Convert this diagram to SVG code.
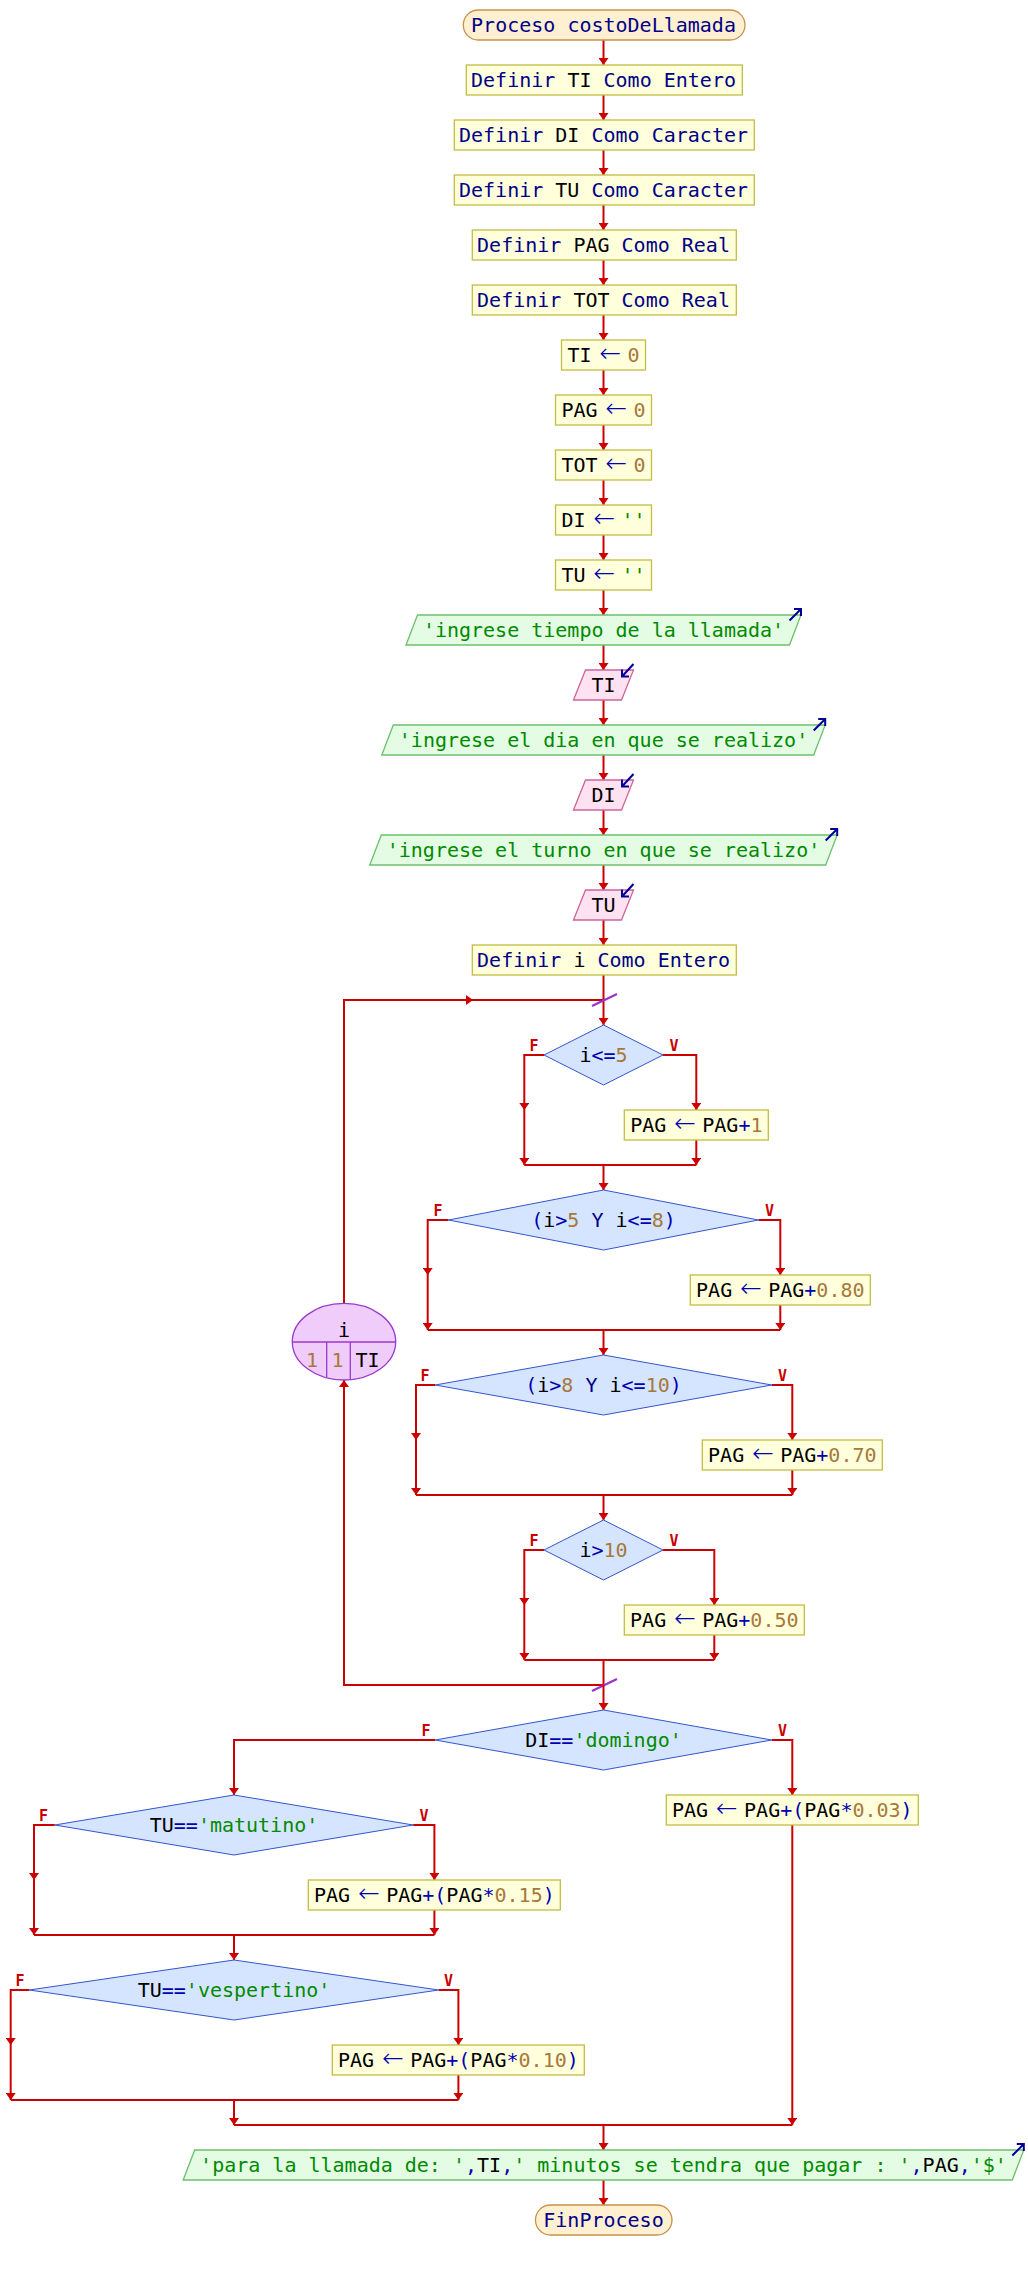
<svg xmlns="http://www.w3.org/2000/svg" width="1028" height="2270" viewBox="0 0 1028 2270">
<style>
.c{stroke:#cc0000;stroke-width:2;fill:none}
.a{marker-end:url(#ah)}
.p{fill:#ffffdc;stroke:#c4bc44;stroke-width:1.3}
.tm{fill:#fff0d2;stroke:#c8904a;stroke-width:1.3}
.out{fill:#e4fce4;stroke:#6cc06c;stroke-width:1.3}
.in{fill:#ffe2f2;stroke:#cc6699;stroke-width:1.3}
.d{fill:#d6e5ff;stroke:#3355cc;stroke-width:1}
.t{font-family:"DejaVu Sans Mono","Liberation Mono",monospace;font-size:20px;text-anchor:middle;fill:#000}
.ar{font-family:"DejaVu Sans",sans-serif;font-size:26px;font-weight:200}
.k{fill:#000088}
.v{fill:#000}
.o{fill:#0000b0}
.n{fill:#a8783a}
.s{fill:#008a00}
.lb{font-family:"DejaVu Sans Mono","Liberation Mono",monospace;font-size:15px;font-weight:bold;fill:#cc0000;text-anchor:middle}
.ic{stroke:#000099;stroke-width:2;fill:none}
.sl{stroke:#9933cc;stroke-width:2.2}
</style>
<defs>
<marker id="ah" markerUnits="userSpaceOnUse" markerWidth="7" markerHeight="10" refX="7" refY="5" orient="auto" viewBox="0 0 7 10"><path d="M0,0 L7,5 L0,10 z" fill="#cc0000"/></marker>
</defs>
<rect width="1028" height="2270" fill="#ffffff"/>

<g id="connectors">
<path class="c a" d="M603.5,40V65"/>
<path class="c a" d="M603.5,95V120"/>
<path class="c a" d="M603.5,150V175"/>
<path class="c a" d="M603.5,205V230"/>
<path class="c a" d="M603.5,260V285"/>
<path class="c a" d="M603.5,315V340"/>
<path class="c a" d="M603.5,370V395"/>
<path class="c a" d="M603.5,425V450"/>
<path class="c a" d="M603.5,480V505"/>
<path class="c a" d="M603.5,535V560"/>
<path class="c a" d="M603.5,590V615"/>
<path class="c a" d="M603.5,645V670"/>
<path class="c a" d="M603.5,700V725"/>
<path class="c a" d="M603.5,755V780"/>
<path class="c a" d="M603.5,810V835"/>
<path class="c a" d="M603.5,865V890"/>
<path class="c a" d="M603.5,920V945"/>
<path class="c" d="M603.5,975V1000"/>
<path class="c a" d="M603.5,1000V1025"/>
<path class="c a" d="M344,1303V1000H473"/>
<path class="c" d="M472,1000H603.5"/>
<line class="sl" x1="592" y1="1006" x2="617" y2="994"/>
<path class="c a" d="M544,1055H524.3V1110"/>
<path class="c a" d="M524.3,1110V1165"/>
<path class="c a" d="M663,1055H696.3V1110"/>
<path class="c a" d="M696.3,1140V1165"/>
<path class="c" d="M524.3,1165H696.3"/>
<path class="c a" d="M603.5,1165V1190"/>
<path class="c a" d="M448.5,1220H427.7V1275"/>
<path class="c a" d="M427.7,1275V1330"/>
<path class="c a" d="M758.5,1220H780.3V1275"/>
<path class="c a" d="M780.3,1305V1330"/>
<path class="c" d="M427.7,1330H780.3"/>
<path class="c a" d="M603.5,1330V1355"/>
<path class="c a" d="M435.2,1385H416V1440"/>
<path class="c a" d="M416,1440V1495"/>
<path class="c a" d="M771.8,1385H792.3V1440"/>
<path class="c a" d="M792.3,1470V1495"/>
<path class="c" d="M416,1495H792.3"/>
<path class="c a" d="M603.5,1495V1520"/>
<path class="c a" d="M544,1550H524.3V1605"/>
<path class="c a" d="M524.3,1605V1660"/>
<path class="c a" d="M663,1550H714.3V1605"/>
<path class="c a" d="M714.3,1635V1660"/>
<path class="c" d="M524.3,1660H714.3"/>
<path class="c" d="M603.5,1660V1685"/>
<path class="c a" d="M603.5,1685H344V1380"/>
<line class="sl" x1="592" y1="1691" x2="617" y2="1679"/>
<path class="c a" d="M603.5,1685V1710"/>
<path class="c a" d="M435.2,1740H234V1795"/>
<path class="c a" d="M771.8,1740H792.3V1795"/>
<path class="c a" d="M792.3,1825V2125"/>
<path class="c a" d="M54.8,1825H34V1880"/>
<path class="c a" d="M34,1880V1935"/>
<path class="c a" d="M413.2,1825H434.4V1880"/>
<path class="c a" d="M434.4,1910V1935"/>
<path class="c" d="M34,1935H434.4"/>
<path class="c a" d="M234,1935V1960"/>
<path class="c a" d="M29.3,1990H10.7V2045"/>
<path class="c a" d="M10.7,2045V2100"/>
<path class="c a" d="M438.7,1990H458.4V2045"/>
<path class="c a" d="M458.4,2075V2100"/>
<path class="c" d="M10.7,2100H458.4"/>
<path class="c a" d="M234,2100V2125"/>
<path class="c" d="M234,2125H792.3"/>
<path class="c a" d="M603.5,2125V2150"/>
<path class="c a" d="M603.5,2180V2205"/>
</g>

<g id="n_inicio"><rect class="tm" x="463.3" y="10" width="281.7" height="30" rx="15"/><text class="t" x="603.5" y="32" xml:space="preserve"><tspan class="k">Proceso costoDeLlamada</tspan></text></g>
<g id="n_defTI"><rect class="p" x="466.3" y="65" width="276" height="30"/><text class="t" x="603.5" y="87" xml:space="preserve"><tspan class="k">Definir</tspan> <tspan class="v">TI</tspan> <tspan class="k">Como Entero</tspan></text></g>
<g id="n_defDI"><rect class="p" x="454.3" y="120" width="300" height="30"/><text class="t" x="603.5" y="142" xml:space="preserve"><tspan class="k">Definir</tspan> <tspan class="v">DI</tspan> <tspan class="k">Como Caracter</tspan></text></g>
<g id="n_defTU"><rect class="p" x="454.3" y="175" width="300" height="30"/><text class="t" x="603.5" y="197" xml:space="preserve"><tspan class="k">Definir</tspan> <tspan class="v">TU</tspan> <tspan class="k">Como Caracter</tspan></text></g>
<g id="n_defPAG"><rect class="p" x="472.3" y="230" width="264" height="30"/><text class="t" x="603.5" y="252" xml:space="preserve"><tspan class="k">Definir</tspan> <tspan class="v">PAG</tspan> <tspan class="k">Como Real</tspan></text></g>
<g id="n_defTOT"><rect class="p" x="472.3" y="285" width="264" height="30"/><text class="t" x="603.5" y="307" xml:space="preserve"><tspan class="k">Definir</tspan> <tspan class="v">TOT</tspan> <tspan class="k">Como Real</tspan></text></g>
<g id="n_TI0"><rect class="p" x="561.5" y="340" width="84" height="30"/><text class="t" x="603.5" y="362" xml:space="preserve"><tspan class="v">TI</tspan><tspan class="o ar" dx="8">←</tspan><tspan class="n" dx="6.2">0</tspan></text></g>
<g id="n_PAG0"><rect class="p" x="555.5" y="395" width="96" height="30"/><text class="t" x="603.5" y="417" xml:space="preserve"><tspan class="v">PAG</tspan><tspan class="o ar" dx="8">←</tspan><tspan class="n" dx="6.2">0</tspan></text></g>
<g id="n_TOT0"><rect class="p" x="555.5" y="450" width="96" height="30"/><text class="t" x="603.5" y="472" xml:space="preserve"><tspan class="v">TOT</tspan><tspan class="o ar" dx="8">←</tspan><tspan class="n" dx="6.2">0</tspan></text></g>
<g id="n_DI0"><rect class="p" x="555.5" y="505" width="96" height="30"/><text class="t" x="603.5" y="527" xml:space="preserve"><tspan class="v">DI</tspan><tspan class="o ar" dx="8">←</tspan><tspan class="s" dx="6.2">''</tspan></text></g>
<g id="n_TU0"><rect class="p" x="555.5" y="560" width="96" height="30"/><text class="t" x="603.5" y="582" xml:space="preserve"><tspan class="v">TU</tspan><tspan class="o ar" dx="8">←</tspan><tspan class="s" dx="6.2">''</tspan></text></g>
<g id="n_out1"><polygon class="out" points="406,645 417.5,615 801,615 789.5,645"/><text class="t" x="603.5" y="637" xml:space="preserve"><tspan class="s">'ingrese tiempo de la llamada'</tspan></text><path class="ic" d="M789.5,620.5L801,609M794,609H801V616"/></g>
<g id="n_inTI"><polygon class="in" points="573.5,700 585.5,670 633.5,670 621.5,700"/><text class="t" x="603.5" y="692"><tspan class="v">TI</tspan></text><path class="ic" d="M633.5,664L622,676.5M622,669.5V676.5H629"/></g>
<g id="n_out2"><polygon class="out" points="381.8,755 393.3,725 825.2,725 813.7,755"/><text class="t" x="603.5" y="747" xml:space="preserve"><tspan class="s">'ingrese el dia en que se realizo'</tspan></text><path class="ic" d="M813.7,730.5L825.2,719M818.2,719H825.2V726"/></g>
<g id="n_inDI"><polygon class="in" points="573.5,810 585.5,780 633.5,780 621.5,810"/><text class="t" x="603.5" y="802"><tspan class="v">DI</tspan></text><path class="ic" d="M633.5,774L622,786.5M622,779.5V786.5H629"/></g>
<g id="n_out3"><polygon class="out" points="369.8,865 381.3,835 837.2,835 825.7,865"/><text class="t" x="603.5" y="857" xml:space="preserve"><tspan class="s">'ingrese el turno en que se realizo'</tspan></text><path class="ic" d="M825.7,840.5L837.2,829M830.2,829H837.2V836"/></g>
<g id="n_inTU"><polygon class="in" points="573.5,920 585.5,890 633.5,890 621.5,920"/><text class="t" x="603.5" y="912"><tspan class="v">TU</tspan></text><path class="ic" d="M633.5,884L622,896.5M622,889.5V896.5H629"/></g>
<g id="n_defi"><rect class="p" x="472.3" y="945" width="264" height="30"/><text class="t" x="603.5" y="967" xml:space="preserve"><tspan class="k">Definir</tspan> <tspan class="v">i</tspan> <tspan class="k">Como Entero</tspan></text></g>

<g id="n_para"><ellipse cx="344" cy="1341.7" rx="51.7" ry="38.3" fill="#f0ccfa" stroke="#9a3acc" stroke-width="1.3"/><path d="M292.3,1342H395.7M326.7,1342V1377.5M350.3,1342V1379.5" stroke="#9a3acc" stroke-width="1.3" fill="none"/><text class="t" x="344" y="1337"><tspan class="v">i</tspan></text><text class="t" x="312" y="1367"><tspan class="n">1</tspan></text><text class="t" x="337.5" y="1367"><tspan class="n">1</tspan></text><text class="t" x="367.5" y="1367"><tspan class="v">TI</tspan></text></g>

<g id="n_if1"><polygon class="d" points="544,1055 603.5,1025 663,1055 603.5,1085"/><text class="t" x="603.5" y="1062" xml:space="preserve"><tspan class="v">i</tspan><tspan class="o">&lt;=</tspan><tspan class="n">5</tspan></text><text class="lb" x="534" y="1051">F</text><text class="lb" x="674" y="1051">V</text></g>
<g id="n_a1"><rect class="p" x="624.3" y="1110" width="144" height="30"/><text class="t" x="696.3" y="1132" xml:space="preserve"><tspan class="v">PAG</tspan><tspan class="o ar" dx="8">←</tspan><tspan class="v" dx="6.2">PAG</tspan><tspan class="o">+</tspan><tspan class="n">1</tspan></text></g>

<g id="n_if2"><polygon class="d" points="448.5,1220 603.5,1190 758.5,1220 603.5,1250"/><text class="t" x="603.5" y="1227" xml:space="preserve"><tspan class="o">(</tspan><tspan class="v">i</tspan><tspan class="o">&gt;</tspan><tspan class="n">5</tspan> <tspan class="k">Y</tspan> <tspan class="v">i</tspan><tspan class="o">&lt;=</tspan><tspan class="n">8</tspan><tspan class="o">)</tspan></text><text class="lb" x="438" y="1216">F</text><text class="lb" x="769.5" y="1216">V</text></g>
<g id="n_a2"><rect class="p" x="690.3" y="1275" width="180" height="30"/><text class="t" x="780.3" y="1297" xml:space="preserve"><tspan class="v">PAG</tspan><tspan class="o ar" dx="8">←</tspan><tspan class="v" dx="6.2">PAG</tspan><tspan class="o">+</tspan><tspan class="n">0.80</tspan></text></g>

<g id="n_if3"><polygon class="d" points="435.2,1385 603.5,1355 771.8,1385 603.5,1415"/><text class="t" x="603.5" y="1392" xml:space="preserve"><tspan class="o">(</tspan><tspan class="v">i</tspan><tspan class="o">&gt;</tspan><tspan class="n">8</tspan> <tspan class="k">Y</tspan> <tspan class="v">i</tspan><tspan class="o">&lt;=</tspan><tspan class="n">10</tspan><tspan class="o">)</tspan></text><text class="lb" x="425" y="1381">F</text><text class="lb" x="782.5" y="1381">V</text></g>
<g id="n_a3"><rect class="p" x="702.3" y="1440" width="180" height="30"/><text class="t" x="792.3" y="1462" xml:space="preserve"><tspan class="v">PAG</tspan><tspan class="o ar" dx="8">←</tspan><tspan class="v" dx="6.2">PAG</tspan><tspan class="o">+</tspan><tspan class="n">0.70</tspan></text></g>

<g id="n_if4"><polygon class="d" points="544,1550 603.5,1520 663,1550 603.5,1580"/><text class="t" x="603.5" y="1557" xml:space="preserve"><tspan class="v">i</tspan><tspan class="o">&gt;</tspan><tspan class="n">10</tspan></text><text class="lb" x="534" y="1546">F</text><text class="lb" x="674" y="1546">V</text></g>
<g id="n_a4"><rect class="p" x="624.3" y="1605" width="180" height="30"/><text class="t" x="714.3" y="1627" xml:space="preserve"><tspan class="v">PAG</tspan><tspan class="o ar" dx="8">←</tspan><tspan class="v" dx="6.2">PAG</tspan><tspan class="o">+</tspan><tspan class="n">0.50</tspan></text></g>

<g id="n_ifDI"><polygon class="d" points="435.2,1740 603.5,1710 771.8,1740 603.5,1770"/><text class="t" x="603.5" y="1747" xml:space="preserve"><tspan class="v">DI</tspan><tspan class="o">==</tspan><tspan class="s">'domingo'</tspan></text><text class="lb" x="426" y="1736">F</text><text class="lb" x="782.5" y="1736">V</text></g>
<g id="n_a5"><rect class="p" x="666.3" y="1795" width="252" height="30"/><text class="t" x="792.3" y="1817" xml:space="preserve"><tspan class="v">PAG</tspan><tspan class="o ar" dx="8">←</tspan><tspan class="v" dx="6.2">PAG</tspan><tspan class="o">+(</tspan><tspan class="v">PAG</tspan><tspan class="o">*</tspan><tspan class="n">0.03</tspan><tspan class="o">)</tspan></text></g>

<g id="n_ifMat"><polygon class="d" points="54.8,1825 234,1795 413.2,1825 234,1855"/><text class="t" x="234" y="1832" xml:space="preserve"><tspan class="v">TU</tspan><tspan class="o">==</tspan><tspan class="s">'matutino'</tspan></text><text class="lb" x="43.5" y="1821">F</text><text class="lb" x="424" y="1821">V</text></g>
<g id="n_a6"><rect class="p" x="308.3" y="1880" width="252" height="30"/><text class="t" x="434.4" y="1902" xml:space="preserve"><tspan class="v">PAG</tspan><tspan class="o ar" dx="8">←</tspan><tspan class="v" dx="6.2">PAG</tspan><tspan class="o">+(</tspan><tspan class="v">PAG</tspan><tspan class="o">*</tspan><tspan class="n">0.15</tspan><tspan class="o">)</tspan></text></g>

<g id="n_ifVes"><polygon class="d" points="29.3,1990 234,1960 438.7,1990 234,2020"/><text class="t" x="234" y="1997" xml:space="preserve"><tspan class="v">TU</tspan><tspan class="o">==</tspan><tspan class="s">'vespertino'</tspan></text><text class="lb" x="20" y="1986">F</text><text class="lb" x="448.5" y="1986">V</text></g>
<g id="n_a7"><rect class="p" x="332.3" y="2045" width="252" height="30"/><text class="t" x="458.4" y="2067" xml:space="preserve"><tspan class="v">PAG</tspan><tspan class="o ar" dx="8">←</tspan><tspan class="v" dx="6.2">PAG</tspan><tspan class="o">+(</tspan><tspan class="v">PAG</tspan><tspan class="o">*</tspan><tspan class="n">0.10</tspan><tspan class="o">)</tspan></text></g>

<g id="n_outFinal"><polygon class="out" points="183.2,2180 194.7,2150 1023.8,2150 1012.3,2180"/><text class="t" x="603.5" y="2172" xml:space="preserve"><tspan class="s">'para la llamada de: '</tspan><tspan class="o">,</tspan><tspan class="v">TI</tspan><tspan class="o">,</tspan><tspan class="s">' minutos se tendra que pagar : '</tspan><tspan class="o">,</tspan><tspan class="v">PAG</tspan><tspan class="o">,</tspan><tspan class="s">'$'</tspan></text><path class="ic" d="M1012.3,2155.5L1023.8,2144M1016.8,2144H1023.8V2151"/></g>
<g id="n_fin"><rect class="tm" x="535.5" y="2205" width="136.5" height="30" rx="15"/><text class="t" x="603.5" y="2227"><tspan class="k">FinProceso</tspan></text></g>
</svg>
